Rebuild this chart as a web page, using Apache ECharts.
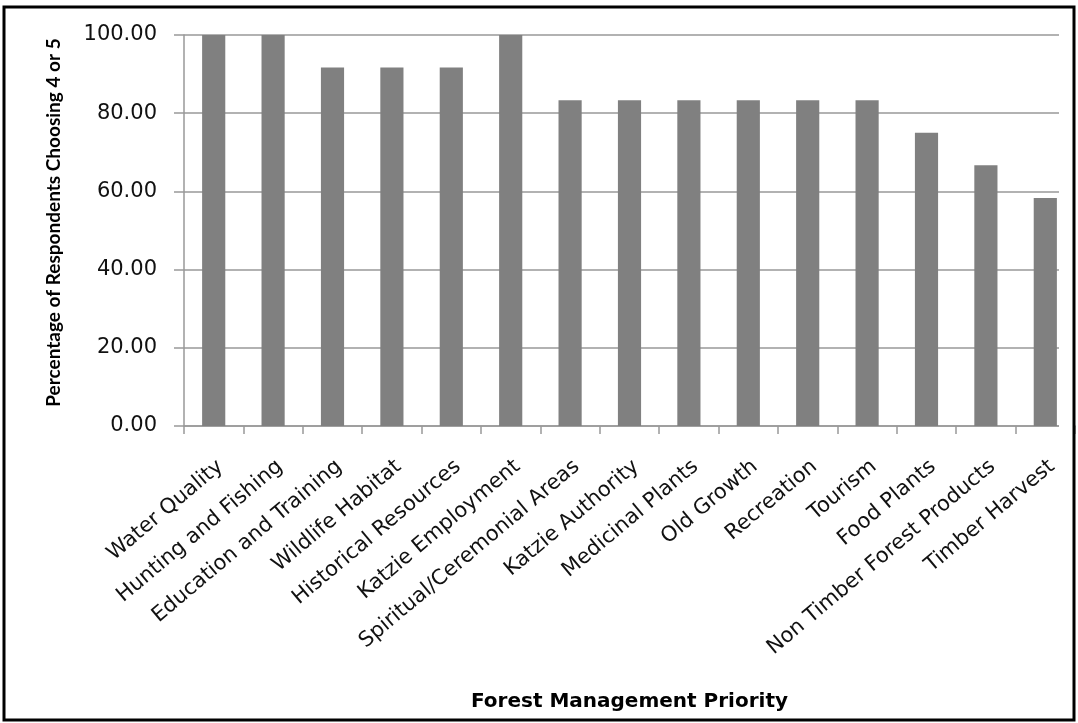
<!DOCTYPE html>
<html lang="en">
<head>
    <meta charset="utf-8">
    <script src="https://cdn.jsdelivr.net/npm/echarts@6/dist/echarts.min.js"></script>
    <title>Forest Management Priority</title>
    <style>
        html, body { margin: 0; padding: 0; background: #fff; }
        #container { width: 1078px; height: 723px; }
    </style>
</head>
<body>
<div id="container"></div>
<script type="text/javascript">
    const categories = ['Water Quality', 'Hunting and Fishing', 'Education and Training', 'Wildlife Habitat',
        'Historical Resources', 'Katzie Employment', 'Spiritual/Ceremonial Areas', 'Katzie Authority',
        'Medicinal Plants', 'Old Growth', 'Recreation', 'Tourism', 'Food Plants',
        'Non Timber Forest Products', 'Timber Harvest'];
    const percentages = [100, 100, 91.67, 91.67, 91.67, 100, 83.33, 83.33, 83.33, 83.33, 83.33, 83.33, 75, 66.67, 58.33];

    const myChart = echarts.init(document.getElementById('container'), null, {renderer: 'canvas'});
    // the picture is stretched sideways, so a wide face stands in for the original one
    const wide = '"DejaVu Sans", sans-serif';

    myChart.setOption({
        animation: false,
        textStyle: {fontFamily: wide},
        graphic: [
            {
                // the plot area runs under the frame; gridlines stop short of it
                type: 'rect',
                z: 100,
                shape: {x: 1059, y: 25, width: 14, height: 412},
                style: {fill: '#fff'},
                silent: true
            },
            {
                type: 'rect',
                z: 101,
                shape: {x: 4, y: 7, width: 1070, height: 713},
                style: {fill: 'none', stroke: '#000', lineWidth: 3},
                silent: true
            }
        ],
        grid: {left: 184, right: 3, top: 35, bottom: 297},
        xAxis: {
            type: 'category',
            data: categories,
            name: 'Forest Management Priority',
            nameLocation: 'middle',
            nameGap: 266,
            nameTextStyle: {fontSize: 20, fontWeight: 'bold', color: '#000', fontFamily: wide},
            axisLine: {lineStyle: {color: '#999', width: 1.5}},
            axisTick: {show: true, length: 8, lineStyle: {color: '#999', width: 1.5}},
            axisLabel: {
                rotate: 40, interval: 0, fontSize: 21, color: '#111', margin: 30,
                verticalAlign: 'top', fontFamily: wide
            }
        },
        yAxis: {
            type: 'value',
            min: 0,
            max: 100,
            interval: 20,
            name: 'Percentage of Respondents Choosing 4 or 5',
            nameLocation: 'middle',
            nameGap: 121,
            nameTextStyle: {
                fontSize: 19, fontWeight: 'bold', color: '#000', fontFamily: 'Lato, sans-serif',
                padding: [0, 0, 0, 16]
            },
            axisLine: {show: true, lineStyle: {color: '#999', width: 1.5}},
            axisTick: {show: true, length: 10, lineStyle: {color: '#999', width: 1.5}},
            axisLabel: {
                fontSize: 21, color: '#111', margin: 27, fontFamily: wide,
                formatter: function (v) { return v.toFixed(2); }
            },
            splitLine: {lineStyle: {color: '#999', width: 1.5}}
        },
        series: [{
            type: 'bar',
            data: percentages,
            barWidth: '39%',
            itemStyle: {color: '#808080'}
        }]
    });
</script>
</body>
</html>
